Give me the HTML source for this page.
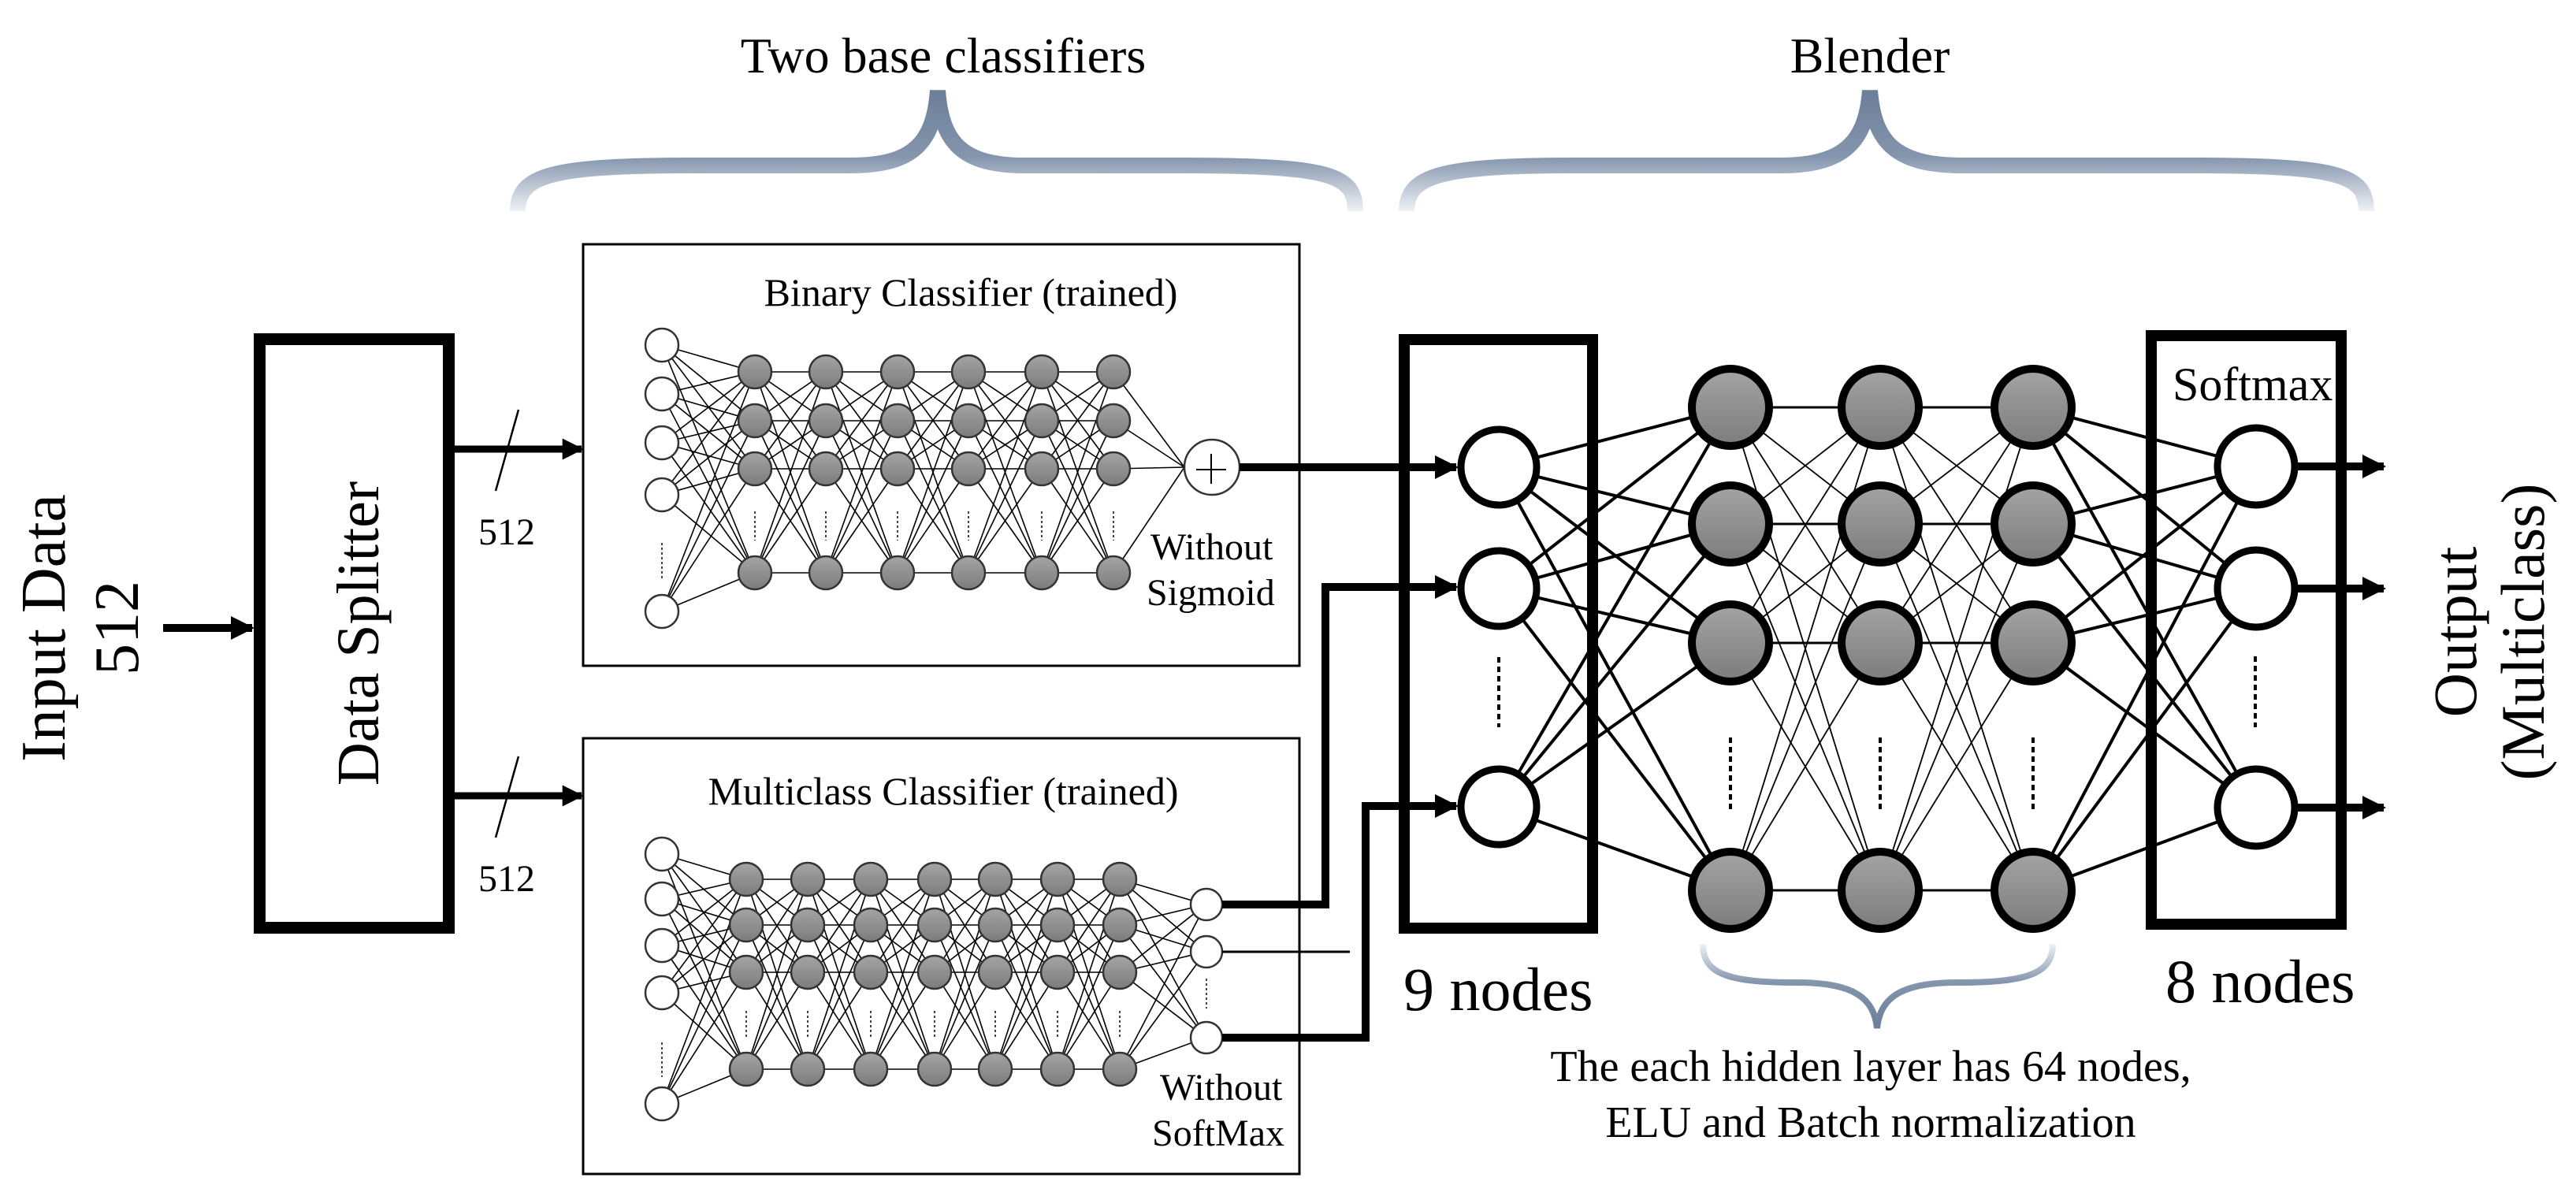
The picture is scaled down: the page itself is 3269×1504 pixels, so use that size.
<!DOCTYPE html>
<html><head><meta charset="utf-8">
<style>
html,body{margin:0;padding:0;background:#fff;}
svg{display:block;}
text{font-family:"Liberation Serif","Times New Roman",serif;fill:#000;}
</style></head>
<body>
<svg id="s" width="3269" height="1504" viewBox="0 0 3269 1504" xmlns="http://www.w3.org/2000/svg" font-family="Liberation Serif, serif">
<defs>
<linearGradient id="gn" x1="0" y1="0" x2="0" y2="1">
<stop offset="0" stop-color="#a4a4a4"/><stop offset="1" stop-color="#7c7c7c"/>
</linearGradient>
<linearGradient id="br1" gradientUnits="userSpaceOnUse" x1="0" y1="115" x2="0" y2="268">
<stop offset="0" stop-color="#6c7e99"/><stop offset="0.55" stop-color="#8495ad"/><stop offset="1" stop-color="#eef1f5"/>
</linearGradient>
<linearGradient id="br3" gradientUnits="userSpaceOnUse" x1="0" y1="1305" x2="0" y2="1198">
<stop offset="0" stop-color="#6c7e99"/><stop offset="0.55" stop-color="#8495ad"/><stop offset="1" stop-color="#eef1f5"/>
</linearGradient>
<marker id="ah" viewBox="0 0 10 10" refX="9" refY="5" markerWidth="3" markerHeight="3" orient="auto" markerUnits="strokeWidth">
<path d="M0,0 L10,5 L0,10 z" fill="#000"/>
</marker>
</defs>

<!-- braces -->
<path d="M657 268 C657 222 700 210 880 210 L1080 210 C1160 210 1185 180 1190 115 C1195 180 1220 210 1300 210 L1500 210 C1690 210 1720 222 1720 268" fill="none" stroke="url(#br1)" stroke-width="20"/>
<path d="M1785 268 C1785 222 1830 210 2000 210 L2260 210 C2340 210 2368 180 2373 115 C2378 180 2405 210 2490 210 L2780 210 C2970 210 3003 222 3003 268" fill="none" stroke="url(#br1)" stroke-width="20"/>
<path d="M2161 1198 C2161 1235 2190 1247 2280 1247 C2350 1247 2378 1265 2382 1305 C2386 1265 2414 1247 2484 1247 C2575 1247 2605 1235 2605 1198" fill="none" stroke="url(#br3)" stroke-width="8"/>

<text x="1197" y="92" font-size="64" text-anchor="middle" font-family="Liberation Serif, serif">Two base classifiers</text>
<text x="2373" y="92" font-size="64" text-anchor="middle" font-family="Liberation Serif, serif">Blender</text>

<!-- input text -->
<text transform="translate(82,797) rotate(-90)" font-size="80" text-anchor="middle" font-family="Liberation Serif, serif">Input Data</text>
<text transform="translate(175,797) rotate(-90)" font-size="80" text-anchor="middle" font-family="Liberation Serif, serif">512</text>
<line x1="207" y1="797" x2="320" y2="797" stroke="#000" stroke-width="10" marker-end="url(#ah)"/>

<!-- data splitter -->
<rect x="329.5" y="430.5" width="240" height="747" fill="none" stroke="#000" stroke-width="15"/>
<text transform="translate(480,804) rotate(-90)" font-size="76" text-anchor="middle" font-family="Liberation Serif, serif">Data Splitter</text>

<line x1="577" y1="570" x2="738" y2="570" stroke="#000" stroke-width="9" marker-end="url(#ah)"/>
<line x1="658" y1="520" x2="629" y2="623" stroke="#000" stroke-width="2.5"/>
<text x="643" y="691" font-size="48" text-anchor="middle" font-family="Liberation Serif, serif">512</text>
<line x1="577" y1="1010" x2="738" y2="1010" stroke="#000" stroke-width="9" marker-end="url(#ah)"/>
<line x1="658" y1="960" x2="629" y2="1063" stroke="#000" stroke-width="2.5"/>
<text x="643" y="1131" font-size="48" text-anchor="middle" font-family="Liberation Serif, serif">512</text>

<!-- classifier boxes -->
<rect x="740" y="310" width="909" height="535" fill="none" stroke="#000" stroke-width="3"/>
<rect x="740" y="937" width="909" height="553" fill="none" stroke="#000" stroke-width="3"/>
<text x="1232" y="388" font-size="50" text-anchor="middle" font-family="Liberation Serif, serif">Binary Classifier (trained)</text>
<text x="1197" y="1021" font-size="50" text-anchor="middle" font-family="Liberation Serif, serif">Multiclass Classifier (trained)</text>
<text x="1460" y="710" font-size="48" font-family="Liberation Serif, serif">Without</text>
<text x="1455" y="768" font-size="48" font-family="Liberation Serif, serif">Sigmoid</text>
<text x="1472" y="1396" font-size="48" font-family="Liberation Serif, serif">Without</text>
<text x="1462" y="1454" font-size="48" font-family="Liberation Serif, serif">SoftMax</text>

<g id="nets"></g>

<!-- blender boxes -->
<rect x="1782" y="431" width="239" height="747" fill="none" stroke="#000" stroke-width="14"/>
<rect x="2730" y="426" width="241" height="747" fill="none" stroke="#000" stroke-width="14"/>
<text x="2757" y="508" font-size="60" font-family="Liberation Serif, serif">Softmax</text>
<text x="1781" y="1282" font-size="78" font-family="Liberation Serif, serif">9 nodes</text>
<text x="2748" y="1272" font-size="78" font-family="Liberation Serif, serif">8 nodes</text>

<g id="blend"></g>

<!-- connectors -->
<g fill="none" stroke="#000" stroke-width="10">
<path d="M1573 593 L1848 593" marker-end="url(#ah)"/>
<path d="M1551 1148 L1682 1148 L1682 745 L1848 745" marker-end="url(#ah)"/>
<path d="M1551 1317 L1733 1317 L1733 1023 L1848 1023" marker-end="url(#ah)"/>
<path d="M2913 592 L3025 592" marker-end="url(#ah)"/>
<path d="M2913 747 L3025 747" marker-end="url(#ah)"/>
<path d="M2913 1025 L3025 1025" marker-end="url(#ah)"/>
</g>
<line x1="1551" y1="1208" x2="1713" y2="1208" stroke="#000" stroke-width="3"/>

<text transform="translate(3142,802) rotate(-90)" font-size="78" text-anchor="middle" font-family="Liberation Serif, serif">Output</text>
<text transform="translate(3228,802) rotate(-90)" font-size="78" text-anchor="middle" font-family="Liberation Serif, serif">(Multiclass)</text>

<text x="2374" y="1372" font-size="56" text-anchor="middle" font-family="Liberation Serif, serif">The each hidden layer has 64 nodes,</text>
<text x="2374" y="1443" font-size="56" text-anchor="middle" font-family="Liberation Serif, serif">ELU and Batch normalization</text>
</svg>
<script>
(function(){
var NS="http://www.w3.org/2000/svg";
function el(p,t,a){var e=document.createElementNS(NS,t);for(var k in a)e.setAttribute(k,a[k]);p.appendChild(e);return e;}
var nets=document.getElementById("nets");
function net(inX,inY,cols,rows,outs,r,dotsY){
  var L=el(nets,"g",{stroke:"#000","stroke-width":"1.6",fill:"none"});
  inY.forEach(function(y){rows.forEach(function(ry){el(L,"line",{x1:inX,y1:y,x2:cols[0],y2:ry});});});
  for(var c=0;c<cols.length-1;c++){rows.forEach(function(a){rows.forEach(function(b){el(L,"line",{x1:cols[c],y1:a,x2:cols[c+1],y2:b});});});}
  var last=cols[cols.length-1];
  outs.forEach(function(o){rows.forEach(function(a){el(L,"line",{x1:last,y1:a,x2:o[0],y2:o[1]});});});
  var N=el(nets,"g",{});
  inY.forEach(function(y){el(N,"circle",{cx:inX,cy:y,r:r,fill:"#fff",stroke:"#333","stroke-width":"2.5"});});
  cols.forEach(function(x){rows.forEach(function(y){el(N,"circle",{cx:x,cy:y,r:r,fill:"url(#gn)",stroke:"#333","stroke-width":"2.5"});});
    el(N,"line",{x1:x,y1:dotsY[0],x2:x,y2:dotsY[1],stroke:"#444","stroke-width":"2","stroke-dasharray":"3 3"});});
  el(N,"line",{x1:inX,y1:dotsY[0]+40,x2:inX,y2:dotsY[1]+50,stroke:"#444","stroke-width":"2","stroke-dasharray":"3 3"});
  return N;
}
var N1=net(840,[438,500,562,628,776],[958,1048,1139,1229,1322,1413],[472,534,595,727],[[1503,593]],21,[649,686]);
el(N1,"circle",{cx:1538,cy:593,r:35,fill:"#fff",stroke:"#333","stroke-width":"2.5"});
el(N1,"line",{x1:1518,y1:596,x2:1556,y2:596,stroke:"#000","stroke-width":"2"});
el(N1,"line",{x1:1537,y1:576,x2:1537,y2:614,stroke:"#000","stroke-width":"2"});
var N2=net(840,[1084,1141,1200,1260,1401],[947,1025,1105,1186,1263,1342,1421],[1116,1174,1234,1357],[[1530,1148],[1530,1208],[1530,1317]],21,[1283,1317]);
[1148,1208,1317].forEach(function(y){el(N2,"circle",{cx:1531,cy:y,r:20,fill:"#fff",stroke:"#333","stroke-width":"2.5"});});
el(N2,"line",{x1:1531,y1:1242,x2:1531,y2:1280,stroke:"#444","stroke-width":"2","stroke-dasharray":"3 3"});

var B=document.getElementById("blend");
var inN=[593,747,1024], hc=[2196,2386,2580], hr=[517,665,816,1130], oN=[592,747,1025];
var L=el(B,"g",{stroke:"#000",fill:"none"});
inN.forEach(function(a){hr.forEach(function(b){el(L,"line",{x1:1902,y1:a,x2:hc[0],y2:b,"stroke-width":"4"});});});
for(var c=0;c<2;c++){hr.forEach(function(a){hr.forEach(function(b){el(L,"line",{x1:hc[c],y1:a,x2:hc[c+1],y2:b,"stroke-width":a==b?"3":"1.8"});});});}
hr.forEach(function(a){oN.forEach(function(b){el(L,"line",{x1:hc[2],y1:a,x2:2863,y2:b,"stroke-width":"4"});});});
inN.forEach(function(y){el(B,"circle",{cx:1902,cy:y,r:48,fill:"#fff",stroke:"#000","stroke-width":"9"});});
oN.forEach(function(y){el(B,"circle",{cx:2863,cy:y,r:49,fill:"#fff",stroke:"#000","stroke-width":"9"});});
hc.forEach(function(x){hr.forEach(function(y){el(B,"circle",{cx:x,cy:y,r:49,fill:"url(#gn)",stroke:"#000","stroke-width":"10"});});
  el(B,"line",{x1:x,y1:936,x2:x,y2:1030,stroke:"#000","stroke-width":"4","stroke-dasharray":"7 5"});});
el(B,"line",{x1:1902,y1:834,x2:1902,y2:923,stroke:"#000","stroke-width":"4","stroke-dasharray":"7 5"});
el(B,"line",{x1:2862,y1:833,x2:2862,y2:923,stroke:"#000","stroke-width":"4","stroke-dasharray":"7 5"});
})();
</script>
</body></html>
